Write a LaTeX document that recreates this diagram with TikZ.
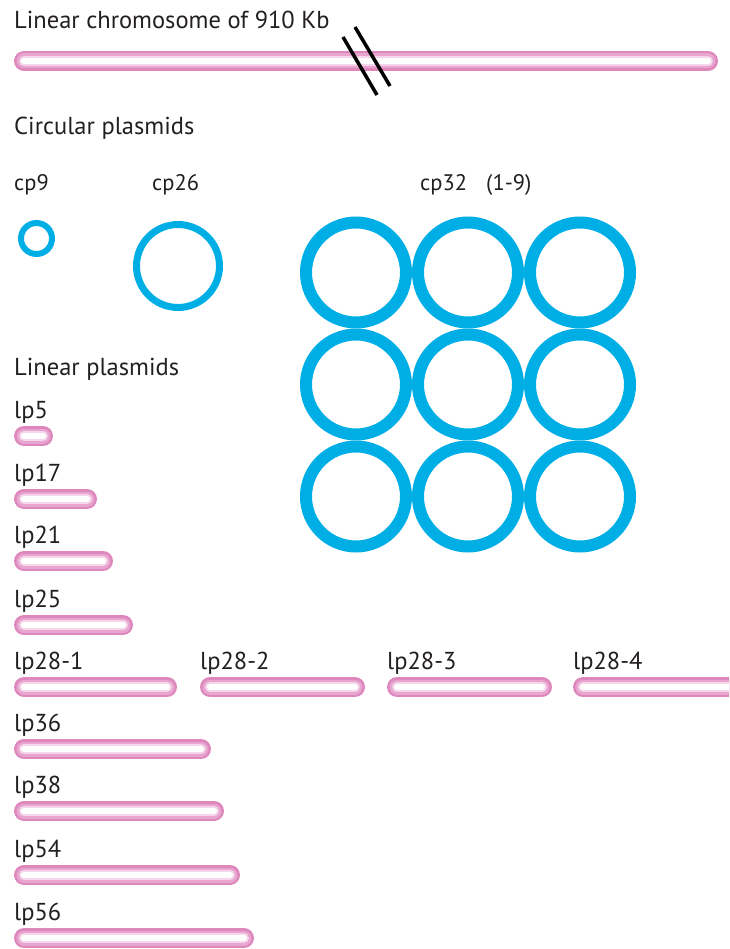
\documentclass[tikz,border=0pt]{standalone}
\usepackage{fontspec}
\setmainfont{PT Sans}
\definecolor{inktext}{RGB}{35,31,32}
\definecolor{ringblue}{RGB}{0,174,230}
\definecolor{barpink}{RGB}{221,135,189}
\definecolor{barmid}{RGB}{232,165,208}
\definecolor{barlight}{RGB}{246,214,234}
\tikzset{
  label/.style={anchor=base west, inner sep=0pt, text=inktext,
                font=\fontsize{24.5}{28}\selectfont},
  smalllabel/.style={label, font=\fontsize{22.5}{26}\selectfont},
  ring/.style={circle, draw=ringblue, inner sep=0pt},
}
% a linear molecule: pink tube shading into a pale core
\newcommand\plasmidbar[3]{%
  \draw[barpink, line width=20pt, line cap=round] (#1,#3) -- (#2,#3);
  \draw[barmid, line width=15pt, line cap=round] (#1,#3) -- (#2,#3);
  \draw[barlight, line width=10pt, line cap=round] (#1,#3) -- (#2,#3);
  \draw[white, line width=6pt, line cap=round] (#1,#3) -- (#2,#3);
}
\begin{document}
\begin{tikzpicture}[x=1pt, y=-1pt]
\useasboundingbox (0,0) rectangle (729,949);
\clip (0,0) rectangle (729,949);

% chromosome
\node[label] (chrtitle) at (14,29) {Linear chromosome of 910 Kb};
\plasmidbar{24}{708}{61}
\coordinate (brkA1) at (343,37);  \coordinate (brkA2) at (377,95);
\coordinate (brkB1) at (355,27);  \coordinate (brkB2) at (390,86);
\draw[black, line width=3.5pt] (brkA1) -- (brkA2);
\draw[black, line width=3.5pt] (brkB1) -- (brkB2);

% circular plasmids
\node[label] (circtitle) at (14,135) {Circular plasmids};
\node[smalllabel] (cp9lab) at (14,191) {cp9};
\node[smalllabel] (cp26lab) at (152,191) {cp26};
\node[smalllabel] (cp32lab) at (420,191) {cp32};
\node[smalllabel] (cp32num) at (486,191) {(1-9)};

\node[ring, line width=6pt, minimum size=31pt] (cp9) at (36.5,238.5) {};
\node[ring, line width=7pt, minimum size=83pt] (cp26) at (178,266) {};
\foreach \r/\yy in {1/272.5, 2/384.5, 3/496.5}
  \foreach \c/\xx in {1/356, 2/468, 3/580}
    \node[ring, line width=12pt, minimum size=100pt] (cp32-\r-\c) at (\xx,\yy) {};

% linear plasmids
\node[label] (lintitle) at (14,375) {Linear plasmids};
\foreach \name/\base/\xend in {lp5/418/53, lp17/481/97, lp21/543/113, lp25/607/133,
                               lp36/731/211, lp38/793/224, lp54/857/240, lp56/920/254} {
  \node[label] (\name) at (14,\base) {\name};
  \plasmidbar{24}{\xend-10}{\base+18}
}
\foreach \k/\xs/\xe in {1/14/177, 2/200/365, 3/387/552, 4/573/760} {
  \node[label] (lp28-\k) at (\xs,669) {lp28-\k};
  \plasmidbar{\xs+10}{\xe-10}{687}
}
\end{tikzpicture}
\end{document}
